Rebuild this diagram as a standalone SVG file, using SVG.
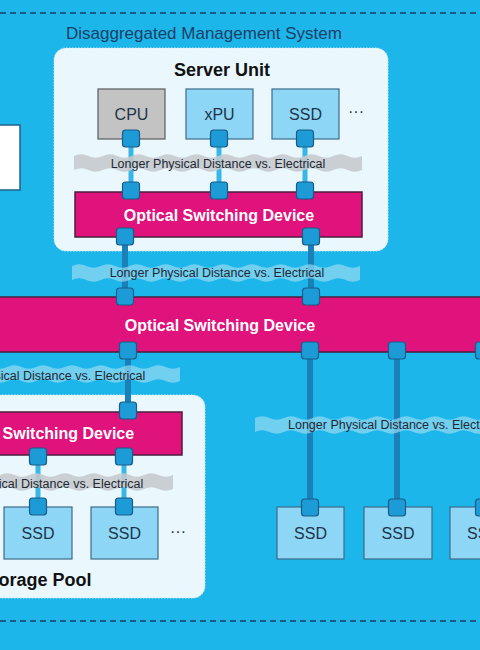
<svg xmlns="http://www.w3.org/2000/svg" width="480" height="650" viewBox="0 0 480 650">
<style>
text{font-family:"Liberation Sans",Arial,sans-serif}
.dash{stroke:#1a3f66;stroke-width:1.5;stroke-dasharray:6 4;fill:none}
.panel{fill:#EAF7FD;stroke:#cfe7f2;stroke-width:1;stroke-dasharray:1.5 1.5}
.dev{fill:#E0127B;stroke:#4a1f3e;stroke-width:1.5}
.devt{fill:#fff;font-size:16px;font-weight:bold;text-anchor:middle}
.box{fill:#8DD6F5;stroke:#3d6b8a;stroke-width:1.2}
.cpu{fill:#C3C3C3;stroke:#5a5a5a;stroke-width:1.2}
.boxt{fill:#1d3449;font-size:16px;text-anchor:middle}
.port{fill:#1D9BD7;stroke:#1a5c88;stroke-width:1.2}
.inner{stroke:#38B6E8;stroke-width:5}
.outer{stroke:#1B7FB8;stroke-width:6}
.bg{fill:#C4CACD;opacity:0.88}
.bb{fill:#92D8F3;opacity:0.72}
.bt{fill:#1f2933;font-size:12.5px}
.title{fill:#1a3f66;font-size:17px}
.hd{fill:#111;font-size:18px;font-weight:bold;text-anchor:middle}
.dots{fill:#1d3449;font-size:16px;text-anchor:middle}
</style>
<defs>
<path id="wave" d="M0,3 q7.2,-3.5 14.4,0 t14.4,0 t14.4,0 t14.4,0 t14.4,0 t14.4,0 t14.4,0 t14.4,0 t14.4,0 t14.4,0 t14.4,0 t14.4,0 t14.4,0 t14.4,0 t14.4,0 t14.4,0 t14.4,0 t14.4,0 t14.4,0 t14.4,0 v14 q-7.2,3.5 -14.4,0 t-14.4,0 t-14.4,0 t-14.4,0 t-14.4,0 t-14.4,0 t-14.4,0 t-14.4,0 t-14.4,0 t-14.4,0 t-14.4,0 t-14.4,0 t-14.4,0 t-14.4,0 t-14.4,0 t-14.4,0 t-14.4,0 t-14.4,0 t-14.4,0 t-14.4,0 z"/>
</defs>
<rect x="0" y="0" width="480" height="650" fill="#1DB6EA"/>
<line class="dash" x1="0" y1="13" x2="480" y2="13"/>
<line class="dash" x1="0" y1="621" x2="480" y2="621"/>
<text class="title" x="66" y="39">Disaggregated Management System</text>

<g id="server-unit">
<rect class="panel" x="54" y="48" width="334" height="203" rx="12"/>
<text class="hd" x="222" y="76">Server Unit</text>
</g>
<g id="storage-pool">
<rect class="panel" x="-130" y="395" width="335" height="203" rx="12"/>
<text class="hd" x="36" y="586">Storage Pool</text>
</g>
<g id="left-box">
<rect x="-60" y="125" width="80" height="65" fill="#fff" stroke="#1f5f8a" stroke-width="1.5"/>
</g>

<g id="connectors">
<line class="inner" x1="131" y1="145" x2="131" y2="185"/>
<line class="inner" x1="219" y1="145" x2="219" y2="185"/>
<line class="inner" x1="305" y1="145" x2="305" y2="185"/>
<line class="inner" x1="38" y1="464" x2="38" y2="500"/>
<line class="inner" x1="124" y1="464" x2="124" y2="500"/>
<line class="outer" x1="125" y1="244" x2="125" y2="290"/>
<line class="outer" x1="311" y1="244" x2="311" y2="290"/>
<line class="outer" x1="128" y1="358" x2="128" y2="404"/>
<line class="outer" x1="310" y1="358" x2="310" y2="501"/>
<line class="outer" x1="397" y1="358" x2="397" y2="501"/>
<line class="outer" x1="484" y1="358" x2="484" y2="501"/>
</g>

<g id="cpu">
<rect class="cpu" x="98" y="89" width="67" height="50"/>
<text class="boxt" x="131.5" y="120">CPU</text>
<rect class="port" x="122.5" y="130" width="17" height="17" rx="3"/>
</g>
<g id="xpu">
<rect class="box" x="186" y="89" width="67" height="50"/>
<text class="boxt" x="219.5" y="120">xPU</text>
<rect class="port" x="210.5" y="130" width="17" height="17" rx="3"/>
</g>
<g id="ssd-server">
<rect class="box" x="272" y="89" width="67" height="50"/>
<text class="boxt" x="305.5" y="120">SSD</text>
<rect class="port" x="296.5" y="130" width="17" height="17" rx="3"/>
</g>
<text class="dots" x="356" y="117">···</text>

<g id="osd-server">
<rect class="dev" x="75" y="192" width="287" height="45"/>
<text class="devt" x="219" y="221">Optical Switching Device</text>
<rect class="port" x="122.5" y="182" width="17" height="17" rx="3"/>
<rect class="port" x="210.5" y="182" width="17" height="17" rx="3"/>
<rect class="port" x="296.5" y="182" width="17" height="17" rx="3"/>
<rect class="port" x="116.5" y="228" width="17" height="17" rx="3"/>
<rect class="port" x="302.5" y="228" width="17" height="17" rx="3"/>
</g>

<g id="osd-main">
<rect class="dev" x="-10" y="297" width="500" height="55"/>
<text class="devt" x="220" y="331">Optical Switching Device</text>
<rect class="port" x="116.5" y="288" width="17" height="17" rx="3"/>
<rect class="port" x="302.5" y="288" width="17" height="17" rx="3"/>
<rect class="port" x="119.5" y="342" width="17" height="17" rx="3"/>
<rect class="port" x="301.5" y="342" width="17" height="17" rx="3"/>
<rect class="port" x="388.5" y="342" width="17" height="17" rx="3"/>
<rect class="port" x="475.5" y="342" width="17" height="17" rx="3"/>
</g>

<g id="osd-storage">
<rect class="dev" x="-92" y="412" width="274" height="43"/>
<text class="devt" x="39" y="439">Optical Switching Device</text>
<rect class="port" x="119.5" y="402" width="17" height="17" rx="3"/>
<rect class="port" x="29.5" y="448" width="17" height="17" rx="3"/>
<rect class="port" x="115.5" y="448" width="17" height="17" rx="3"/>
</g>

<g id="ssd-pool-1">
<rect class="box" x="4" y="507" width="68" height="52"/>
<text class="boxt" x="38" y="539">SSD</text>
<rect class="port" x="29.5" y="498" width="17" height="17" rx="3"/>
</g>
<g id="ssd-pool-2">
<rect class="box" x="91" y="507" width="67" height="52"/>
<text class="boxt" x="124.5" y="539">SSD</text>
<rect class="port" x="115.5" y="498" width="17" height="17" rx="3"/>
</g>
<text class="dots" x="178" y="537">···</text>

<g id="ssd-r1">
<rect class="box" x="277" y="507" width="67" height="52"/>
<text class="boxt" x="310.5" y="539">SSD</text>
<rect class="port" x="301.5" y="499" width="17" height="17" rx="3"/>
</g>
<g id="ssd-r2">
<rect class="box" x="364" y="507" width="68" height="52"/>
<text class="boxt" x="398" y="539">SSD</text>
<rect class="port" x="388.5" y="499" width="17" height="17" rx="3"/>
</g>
<g id="ssd-r3">
<rect class="box" x="450" y="507" width="67" height="52"/>
<text class="boxt" x="483.5" y="539">SSD</text>
<rect class="port" x="475.5" y="499" width="17" height="17" rx="3"/>
</g>

<g id="band-1">
<use href="#wave" class="bg" transform="translate(74,153)"/>
<text class="bt" x="218" y="168" text-anchor="middle">Longer Physical Distance vs. Electrical</text>
</g>
<g id="band-2">
<use href="#wave" class="bb" transform="translate(72,263)"/>
<text class="bt" x="217" y="277" text-anchor="middle">Longer Physical Distance vs. Electrical</text>
</g>
<g id="band-3">
<use href="#wave" class="bb" transform="translate(-108,364)"/>
<text class="bt" x="38" y="380" text-anchor="middle">Longer Physical Distance vs. Electrical</text>
</g>
<g id="band-4">
<use href="#wave" class="bg" transform="translate(-115,472)"/>
<text class="bt" x="36" y="488" text-anchor="middle">Longer Physical Distance vs. Electrical</text>
</g>
<g id="band-5">
<use href="#wave" class="bb" transform="translate(255,415)"/>
<text class="bt" x="288" y="429">Longer Physical Distance vs. Electrical</text>
</g>
</svg>
